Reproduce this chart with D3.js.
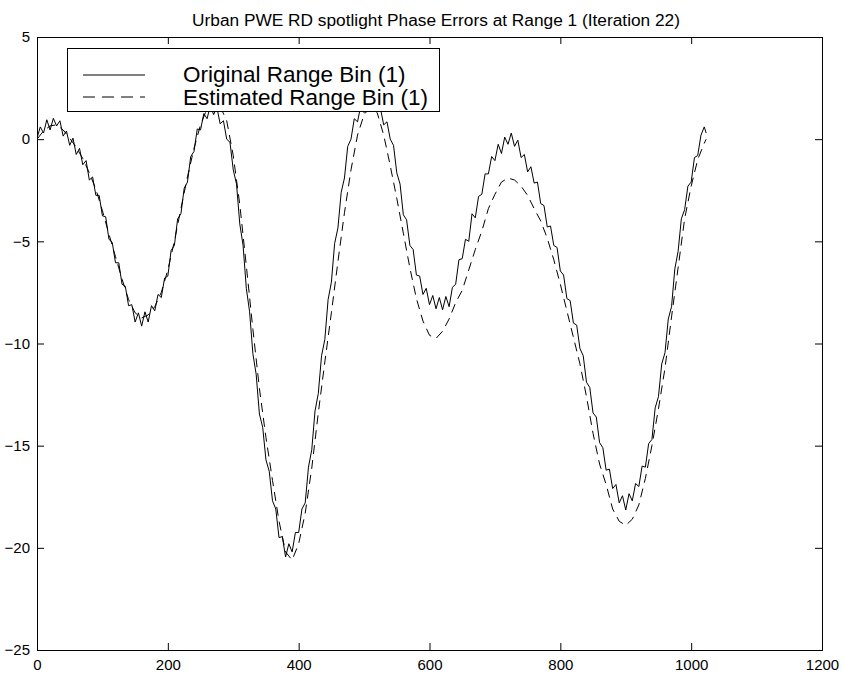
<!DOCTYPE html>
<html>
<head>
<meta charset="utf-8">
<script src="https://cdn.jsdelivr.net/npm/d3@7"></script>
<style>
  html, body { margin: 0; padding: 0; background: #fff; }
  svg { display: block; }
  text { font-family: "Liberation Sans", Arial, Helvetica, sans-serif; fill: #000; }
</style>
</head>
<body>
<svg id="chart" width="844" height="679"></svg>
<script>
// ---- data ----
const chartTitle = "Urban PWE RD spotlight Phase Errors at Range 1 (Iteration 22)";
const seriesNames = ["Original Range Bin (1)", "Estimated Range Bin (1)"];
const xTicks = [0, 200, 400, 600, 800, 1000, 1200];
const yTicks = [5, 0, -5, -10, -15, -20, -25];

// Original range bin: one value every 5 samples (0..1020) plus the last sample 1023
const originalStep = 5;
const originalValues = [
  0.05, 0.6, 0.3, 0.95, 0.45, 1.02, 0.65, 0.9, 0.15, 0.4,
  -0.3, 0.05, -0.75, -0.45, -1.25, -1.05, -2.0, -1.85, -2.75, -2.75,
  -3.75, -3.8, -4.9, -5.05, -6.05, -6.05, -7.1, -7.2, -8.15, -8.1,
  -8.95, -8.5, -9.15, -8.45, -8.95, -8.15, -8.4, -7.6, -7.75, -6.8,
  -6.7, -5.45, -5.2, -3.9, -3.65, -2.4, -2.1, -0.85, -0.6, 0.5,
  0.45, 1.25, 1.0, 1.65, 1.2, 1.55, 0.75, 0.9, 0.0, -0.15,
  -1.5, -2.2, -4.15, -5.2, -7.3, -8.45, -10.5, -11.5, -13.45, -14.1,
  -15.7, -16.25, -17.7, -18.1, -19.5, -19.45, -20.45, -19.8, -20.2, -19.25,
  -19.25, -18.1, -17.8, -16.05, -15.2, -13.3, -12.45, -10.6, -9.8, -7.85,
  -7.0, -5.1, -4.35, -2.6, -1.9, -0.35, 0.0, 1.0, 0.85, 1.65,
  1.3, 1.95, 1.6, 2.0, 1.35, 1.5, 0.7, 0.85, 0.0, -0.3,
  -1.65, -2.2, -3.7, -3.95, -5.2, -5.4, -6.65, -6.7, -7.6, -7.3,
  -8.1, -7.65, -8.3, -7.75, -8.35, -7.7, -8.2, -7.25, -7.1, -5.9,
  -5.85, -4.9, -5.0, -3.65, -3.85, -2.8, -2.7, -1.7, -1.7, -0.85,
  -1.05, -0.25, -0.7, 0.1, -0.25, 0.3, -0.35, -0.05, -0.9, -0.75,
  -1.6, -1.35, -2.15, -2.1, -3.15, -3.25, -4.3, -4.25, -5.2, -5.3,
  -6.45, -6.65, -7.8, -7.9, -9.0, -9.1, -10.25, -10.6, -11.9, -12.15,
  -13.4, -13.6, -14.85, -15.1, -16.2, -16.15, -17.1, -16.9, -17.8, -17.45,
  -18.15, -17.35, -17.7, -16.85, -17.0, -16.0, -16.05, -14.9, -14.7, -13.15,
  -12.6, -11.0, -10.45, -8.8, -8.2, -6.35, -5.5, -3.9, -3.45, -2.3,
  -2.1, -0.9, -0.8, 0.2, 0.6,
  0.3
];

// Estimated range bin: one value every 10 samples (0..1020) plus the last sample 1023
const estimatedStep = 10;
const estimatedValues = [
  0.0, 0.4, 0.65, 0.7, 0.45, 0.05, -0.4, -0.95, -1.65, -2.45,
  -3.5, -4.65, -5.75, -6.85, -7.85, -8.5, -8.75, -8.6, -8.2, -7.5,
  -6.4, -5.0, -3.4, -1.85, -0.45, 0.7, 1.5, 1.8, 1.6, 0.9,
  -0.8, -3.2, -6.2, -9.3, -12.2, -14.6, -16.7, -18.7, -20.2, -20.6,
  -19.8, -18.3, -16.1, -13.4, -10.9, -8.5, -6.0, -3.6, -1.5, 0.2,
  1.2, 1.6, 1.3, 0.2, -1.3, -2.9, -4.6, -6.3, -7.8, -8.9,
  -9.6, -9.75, -9.4, -8.8, -8.0, -7.4, -6.4, -5.4, -4.5, -3.4,
  -2.7, -2.1, -1.9, -2.0, -2.3, -2.75, -3.4, -4.0, -4.85, -5.9,
  -7.1, -8.4, -9.7, -11.0, -12.6, -14.4, -15.9, -16.9, -18.1, -18.7,
  -18.9, -18.6, -17.9, -16.6, -15.0, -13.2, -11.2, -8.7, -6.3, -3.9,
  -2.3, -1.0, -0.2,
  0.0
];
const lastSample = 1023;

// ---- build point tables ----
function toPoints(values, step) {
  return values.map((v, i) => ({ x: i === values.length - 1 ? lastSample : i * step, y: v }));
}
const originalPts = toPoints(originalValues, originalStep);
const estimatedPts = toPoints(estimatedValues, estimatedStep);

// ---- layout ----
const svg = d3.select("#chart");
const mLeft = 37, mRight = 822, mTop = 37, mBottom = 650;
const x = d3.scaleLinear().domain([0, 1200]).range([mLeft, mRight]);
const y = d3.scaleLinear().domain([-25, 5]).range([mBottom, mTop]);

svg.append("rect").attr("width", 844).attr("height", 679).attr("fill", "#fff");

// title
svg.append("text")
  .attr("x", 436).attr("y", 26)
  .attr("text-anchor", "middle")
  .attr("font-size", 17.3)
  .text(chartTitle);

// clip
svg.append("clipPath").attr("id", "plotclip")
  .append("rect").attr("x", mLeft).attr("y", mTop).attr("width", mRight - mLeft).attr("height", mBottom - mTop);

const line = d3.line().x(d => x(d.x)).y(d => y(d.y));
const g = svg.append("g").attr("clip-path", "url(#plotclip)");
g.append("path").datum(estimatedPts)
  .attr("d", line).attr("fill", "none").attr("stroke", "#000")
  .attr("stroke-width", 1).attr("stroke-dasharray", "9,6");
g.append("path").datum(originalPts)
  .attr("d", line).attr("fill", "none").attr("stroke", "#000")
  .attr("stroke-width", 1);

// axes (MATLAB style box with inward ticks)
const fmt = d3.format("d");
const axB = d3.axisBottom(x).tickValues(xTicks).tickSize(-7).tickPadding(9).tickFormat(fmt);
const axT = d3.axisTop(x).tickValues(xTicks).tickSize(-7).tickFormat("");
const axL = d3.axisLeft(y).tickValues(yTicks).tickSize(-7).tickPadding(7).tickFormat(fmt);
const axR = d3.axisRight(y).tickValues(yTicks).tickSize(-7).tickFormat("");

function styleAxis(sel) {
  sel.selectAll("path").attr("stroke", "#000").attr("stroke-width", 1);
  sel.selectAll("line").attr("stroke", "#000").attr("stroke-width", 1);
  sel.selectAll("text").attr("font-size", 15).attr("font-family", "Liberation Sans, Arial, sans-serif").attr("fill", "#000");
}
svg.append("g").attr("transform", `translate(0,${mBottom})`).call(axB).call(styleAxis);
svg.append("g").attr("transform", `translate(0,${mTop})`).call(axT).call(styleAxis);
svg.append("g").attr("transform", `translate(${mLeft},0)`).call(axL).call(styleAxis);
svg.append("g").attr("transform", `translate(${mRight},0)`).call(axR).call(styleAxis);

// legend
const lg = svg.append("g");
lg.append("rect").attr("x", 67.5).attr("y", 48.5).attr("width", 372).attr("height", 63)
  .attr("fill", "#fff").attr("stroke", "#000").attr("stroke-width", 1);
const legendRows = [
  { name: seriesNames[0], dash: null, ly: 75, ty: 82 },
  { name: seriesNames[1], dash: "12,7", ly: 97, ty: 105 }
];
legendRows.forEach(r => {
  lg.append("line").attr("x1", 83).attr("x2", 145).attr("y1", r.ly).attr("y2", r.ly)
    .attr("stroke", "#000").attr("stroke-width", 1)
    .attr("stroke-dasharray", r.dash);
  lg.append("text").attr("x", 183).attr("y", r.ty).attr("font-size", 22.5).text(r.name);
});
</script>
</body>
</html>
